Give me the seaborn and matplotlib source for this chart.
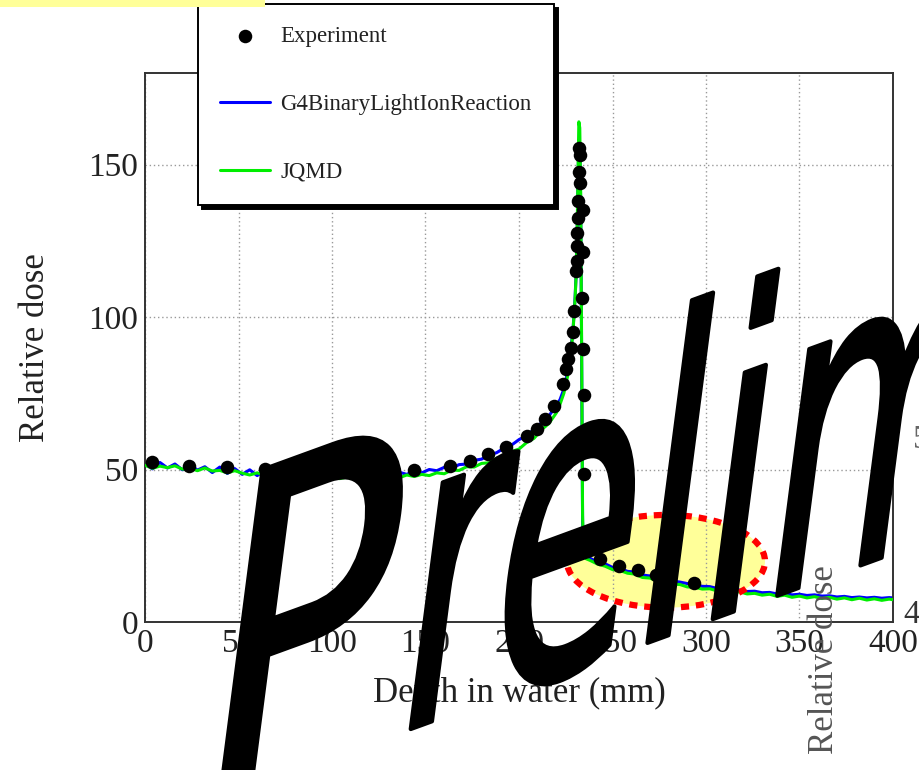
import matplotlib
matplotlib.use("Agg")
import matplotlib.pyplot as plt
import seaborn as sns
from matplotlib.patches import Ellipse, Rectangle, PathPatch
from matplotlib.textpath import TextPath
from matplotlib.font_manager import FontProperties
from matplotlib.transforms import Affine2D
from matplotlib.ticker import MultipleLocator

# Experimental points (depth in mm, relative dose)
exp_depth = [3.7, 23.5, 43.9, 64.0, 84.0, 104.2, 124.0, 143.6, 163.3, 173.6,
             183.5, 193.3, 204.1, 209.5, 213.9, 218.7, 223.7, 225.1, 226.4, 227.6,
             229.0, 229.6, 230.5, 230.8, 230.8, 231.2, 231.3, 231.7, 232.1, 232.1,
             232.6, 232.6, 233.5, 234.4, 234.4, 234.4, 235.0, 235.0, 243.2, 253.5,
             263.4, 273.4, 293.6]
exp_dose = [52.3, 51.3, 50.7, 50.1, 49.5, 49.1, 49.2, 49.7, 51.3, 52.9,
            55.0, 57.3, 61.1, 63.3, 66.6, 70.9, 78.0, 82.9, 86.2, 90.0,
            95.2, 102.0, 115.0, 118.5, 127.6, 123.2, 132.5, 137.9, 147.7, 155.3,
            143.9, 153.2, 106.3, 135.2, 121.4, 89.4, 74.5, 48.6, 20.6, 18.3,
            17.0, 15.3, 12.8]

# Simulated depth-dose bins (mm)
depth_mc = [0, 4, 8, 12, 16, 20, 24, 28, 32, 36, 40, 44, 48, 52, 56, 60, 64, 68,
            72, 76, 80, 84, 88, 92, 96, 100, 104, 108, 112, 116, 120, 124, 128,
            132, 136, 140, 144, 148, 152, 156, 160, 164, 168, 172, 176, 180, 184,
            188, 192, 196, 200, 204, 208, 212, 216, 220,
            222, 224, 225, 226, 227, 228, 229, 230, 230.5, 231, 231.5, 232, 232.5,
            233, 233.5, 234, 234.5, 235, 236,
            238, 242, 246, 250, 254, 258, 262, 266, 270, 274, 278, 282, 286, 290,
            294, 298, 302, 306, 310, 314, 318, 322, 326, 330, 334, 338, 342, 346,
            350, 354, 358, 362, 366, 370, 374, 378, 382, 386, 390, 394, 398, 400]

g4_binary = [51.9, 50.2, 52.3, 50.5, 51.8, 49.9, 51.6, 49.8, 50.9, 49.0, 50.8, 48.7,
             50.3, 48.4, 49.9, 48.0, 49.8, 48.1, 49.4, 47.5, 49.1, 47.6, 48.9, 47.2,
             48.8, 47.1, 48.9, 47.4, 48.7, 47.6, 48.9, 47.7, 48.8, 48.0, 49.1, 48.4,
             49.6, 48.9, 50.0, 49.6, 50.7, 50.5, 51.6, 51.8, 53.0, 53.4, 54.8, 55.5,
             57.0, 58.0, 59.8, 61.0, 63.2, 65.3, 67.6, 70.9,
             73.0, 76.4, 79.0, 82.0, 85.5, 90.5, 97.0, 106.5, 113.5, 124.0, 142.0,
             158.0, 157.0, 136.0, 86.0, 33.0, 23.0, 21.8, 21.4,
             20.9, 19.6, 19.1, 17.9, 17.6, 16.6, 16.4, 15.4, 15.1, 14.3, 14.1, 13.4,
             13.1, 12.6, 12.2, 11.7, 11.6, 11.0, 11.0, 10.5, 10.5, 10.0, 10.1, 9.6,
             9.7, 9.2, 9.4, 8.9, 9.1, 8.7, 8.9, 8.5, 8.6, 8.2, 8.4, 8.0, 8.2, 7.9,
             8.1, 7.8, 8.0, 7.9]

jqmd = [51.4, 50.4, 51.1, 50.6, 51.2, 50.1, 50.5, 49.6, 50.5, 49.5, 49.7, 48.9,
        49.6, 48.8, 48.2, 48.9, 48.1, 48.8, 47.9, 48.2, 47.4, 48.2, 47.6, 47.0,
        47.8, 47.9, 47.0, 47.5, 46.8, 47.6, 47.1, 47.8, 46.8, 47.7, 47.3, 48.2,
        47.7, 48.4, 48.0, 48.9, 48.6, 49.8, 49.7, 50.9, 50.8, 52.0, 52.2, 53.7,
        54.2, 55.9, 56.7, 58.8, 60.2, 63.0, 65.1, 68.6,
        71.5, 75.0, 77.8, 80.6, 84.5, 89.5, 96.5, 106.0, 113.0, 125.0, 145.0,
        164.0, 162.0, 140.0, 90.0, 35.0, 22.5, 21.2, 20.7,
        20.2, 19.0, 18.3, 17.2, 16.9, 16.0, 15.7, 14.6, 14.4, 13.4, 13.3, 12.4,
        12.3, 11.5, 11.4, 10.8, 10.9, 10.2, 10.3, 9.7, 9.9, 9.2, 9.4, 8.8,
        9.1, 8.4, 8.8, 8.1, 8.5, 7.9, 8.3, 7.7, 8.1, 7.5, 7.9, 7.3, 7.8, 7.2,
        7.6, 7.1, 7.5, 7.3]

legend_order = ["Experiment", "G4BinaryLightIonReaction", "JQMD"]

sns.set_theme(style="white")
plt.rcParams["font.family"] = ["Liberation Serif", "DejaVu Serif"]
plt.rcParams["text.color"] = "#222222"

fig = plt.figure(figsize=(9.2, 7.7), dpi=100, facecolor="white")
ax = fig.add_axes([145 / 920, 148 / 770, 748 / 920, 549 / 770])
ax.set_facecolor("white")
ax.set_axisbelow(True)

# simulation curves
sns.lineplot(x=depth_mc, y=g4_binary, ax=ax, color="#0000ff", lw=2.2,
             sort=False, estimator=None, label="G4BinaryLightIonReaction", zorder=2)
sns.lineplot(x=depth_mc, y=jqmd, ax=ax, color="#00ee00", lw=2.2,
             sort=False, estimator=None, label="JQMD", zorder=3)
sns.scatterplot(x=exp_depth, y=exp_dose, ax=ax, color="black", s=95,
                linewidth=0, label="Experiment", zorder=5)

# highlighted region
ax.add_patch(Ellipse((278.6, 19.9), 105.9, 30.4, facecolor="#ffff99",
                     edgecolor="none", zorder=0.3))
ax.add_patch(Ellipse((278.6, 19.9), 105.9, 30.4, fill=False, edgecolor="#ff0000",
                     lw=4.5, linestyle=(0, (1.3, 1.1)), zorder=4))

ax.set_xlim(0, 400)
ax.set_ylim(0, 180)
ax.xaxis.set_major_locator(MultipleLocator(50))
ax.xaxis.set_minor_locator(MultipleLocator(10))
ax.yaxis.set_major_locator(MultipleLocator(50))
ax.yaxis.set_minor_locator(MultipleLocator(10))
ax.grid(True, which="major", color="#999999", linestyle=(0, (1, 2)), linewidth=1)

for sp in ax.spines.values():
    sp.set_color("#333333")
    sp.set_linewidth(1.4)
ax.tick_params(axis="both", which="both", direction="in", top=False, right=False,
               width=1.1, color="#333333", labelsize=24, labelcolor="#222222", pad=5)
ax.tick_params(axis="y", which="major", length=16)
ax.tick_params(axis="y", which="minor", length=8)
ax.tick_params(axis="x", which="major", length=12)
ax.tick_params(axis="x", which="minor", length=6)

ax.set_xlabel("Depth in water (mm)", fontsize=25, color="#222222")
ax.set_ylabel("Relative dose", fontsize=25, color="#222222")
ax.xaxis.set_label_coords(0.5, -0.100)
ax.yaxis.set_label_coords(-0.124, 0.5)

handles, labels = ax.get_legend_handles_labels()
idx = [labels.index(n) for n in legend_order]
leg = ax.legend([handles[i] for i in idx], [labels[i] for i in idx],
                loc="upper left", bbox_to_anchor=(198 / 920, 1 - 4 / 770),
                bbox_transform=fig.transFigure, borderaxespad=0, fontsize=16.5,
                frameon=True, fancybox=False, framealpha=1, edgecolor="black",
                handlelength=2.2, handletextpad=0.45,
                labelspacing=2.05, borderpad=0.95,
                shadow={"ox": 3, "oy": -3, "facecolor": "black",
                        "edgecolor": "black", "alpha": 1})
leg.get_frame().set_linewidth(1.4)
leg.set_zorder(20)

# fragments of the slide behind the chart
fig.add_artist(Rectangle((0, 1 - 7 / 770), 265 / 920, 7 / 770, transform=fig.transFigure,
                         facecolor="#ffff99", edgecolor="none"))
fig.text(825 / 920, 1 - 660 / 770, "Relative dose", rotation=90, ha="center",
         va="center", fontsize=25, color="#555555")
fig.text(903 / 920, 1 - 615 / 770, "4", ha="left", va="center", fontsize=24,
         color="#333333")
fig.text(913 / 920, 1 - 440 / 770, "5", ha="left", va="center", fontsize=24,
         color="#666666")

# big "Preliminary" watermark, sheared and rotated (P drawn a bit wider)
wm_font = FontProperties(family="DejaVu Sans")
for word, su, ox, oy in [("P", 1.35, 188.7, -39.8), ("reliminary", 1.0, 389.4, 33.2)]:
    path = TextPath((0, 0), word, size=1, prop=wm_font)
    tr = Affine2D.from_values(235 * su, 85.5 * su, 58.6, 451, ox, oy)
    patch = PathPatch(path, transform=tr, facecolor="black", edgecolor="black",
                      lw=3, joinstyle="round", zorder=30)
    fig.add_artist(patch)

fig.savefig("out.png", dpi=100, facecolor="white")
